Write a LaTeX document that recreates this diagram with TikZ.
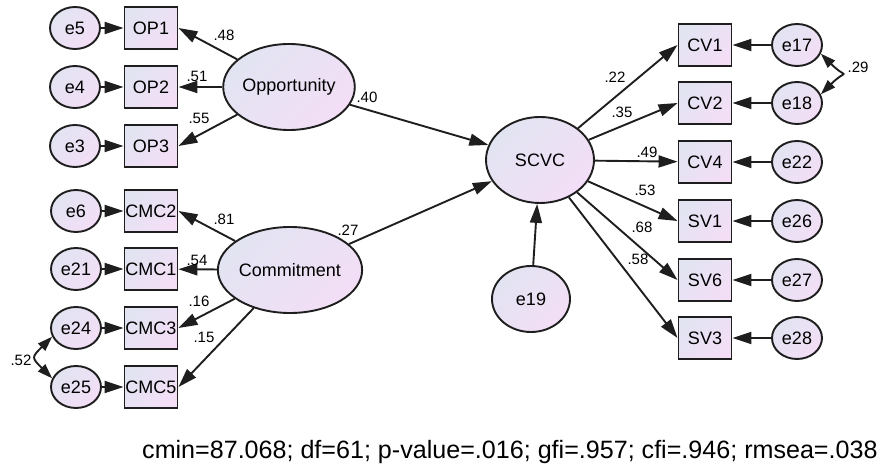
\documentclass[tikz,border=0pt]{standalone}
\usepackage{fontspec}
\setmainfont{Liberation Sans}
\usetikzlibrary{arrows.meta,shapes}
\definecolor{fillA}{RGB}{226,228,242}
\definecolor{fillB}{RGB}{243,222,246}
\definecolor{ink}{RGB}{30,30,30}
\tikzstyle{amosfill}=[draw=ink,line width=1.9pt,top color=fillA,bottom color=fillB,shading angle=45]
\tikzstyle{latent}=[ellipse,amosfill,minimum width=108pt,minimum height=86pt,inner sep=0pt,font=\fontsize{18}{20}\selectfont]
\tikzstyle{errvar}=[ellipse,amosfill,minimum width=50pt,minimum height=42pt,inner sep=0pt,font=\fontsize{18}{20}\selectfont]
\tikzstyle{observed}=[rectangle,amosfill,minimum width=53pt,minimum height=42pt,inner sep=0pt,font=\fontsize{18}{20}\selectfont]
\tikzstyle{edge} = [draw,ink,line width=1.9pt,-{Triangle[length=19pt,width=12pt]}]
\tikzstyle{covedge} = [draw,ink,line width=1.9pt,{Triangle[length=15pt,width=10pt]}-{Triangle[length=15pt,width=10pt]}]
\tikzstyle{weight} = [font=\fontsize{15}{17}\selectfont,inner sep=0pt]

\begin{document}
\begin{tikzpicture}[x=1pt,y=-1pt]
\useasboundingbox (0,0) rectangle (879,470);

%error terms left
    \foreach \pos/\name in {{(75,28)/e5},{(75,87)/e4},{(75,146)/e3},{(76,211)/e6},{(76,269)/e21},{(76,328)/e24},{(76,387)/e25}}
    	\node[errvar] (\name) at \pos {\name};
%indicators left
    \foreach \pos/\name in {{(151,28)/OP1},{(151,87)/OP2},{(151,146)/OP3},{(151,211)/CMC2},{(151,269)/CMC1},{(151,328)/CMC3},{(151,387)/CMC5}}
    	\node[observed] (\name) at \pos {\name};

%latent variables
    \node[latent] (Opp) at (289,87) {Opportunity};
    \node[latent] (Com) at (290,270) {Commitment};
    \node[latent] (SCVC) at (540,160) {SCVC};
    \node[errvar,minimum width=78pt,minimum height=66pt] (e19) at (531,299) {e19};

%indicators right
    \foreach \pos/\name in {{(705,45)/CV1},{(705,103)/CV2},{(705,162)/CV4},{(705,221)/SV1},{(705,280)/SV6},{(705,338)/SV3}}
    	\node[observed] (\name) at \pos {\name};
%error terms right
    \foreach \pos/\name in {{(797,45)/e17},{(797,103)/e18},{(797,162)/e22},{(797,221)/e26},{(797,280)/e27},{(797,338)/e28}}
    	\node[errvar] (\name) at \pos {\name};

    % loadings and paths
    \foreach \source/ \dest in {Opp/OP1.east, Opp/OP2, Opp/OP3.east, Com/CMC2.east, Com/CMC1, Com/CMC3.east, Com/CMC5.east}
        \path[edge] (\source) -- (\dest);
    \foreach \source/ \dest in {Opp/SCVC, Com/SCVC, e19/SCVC}
        \path[edge] (\source) -- (\dest);
    \foreach \dest in {CV1.west, CV2.west, CV4, SV1.west, SV6.west, SV3.west}
        \path[edge] (SCVC) -- (\dest);
    % error arrows
    \foreach \source/ \dest in {e5/OP1, e4/OP2, e3/OP3, e6/CMC2, e21/CMC1, e24/CMC3, e25/CMC5, e17/CV1, e18/CV2, e22/CV4, e26/SV1, e27/SV6, e28/SV3}
        \path[edge] (\source) -- (\dest);

    % covariances
    \path[covedge] (e24.200) to [out=225, in=135, looseness=1.8] (e25.160);
    \path[covedge] (e17.-20) to [out=-45, in=45, looseness=2.4] (e18.20);

% weights
    \foreach \pos/\name/\w in {{(224,35)/wa/.48},{(197,76)/wb/.51},{(199,118)/wc/.55},{(224,219)/wd/.81},{(197,260)/we/.54},{(199,301)/wf/.16},{(204,337)/wg/.15},{(21,360)/wh/.52}}
        \node[weight] (\name) at \pos {\w};
    \foreach \pos/\name/\w in {{(367,97)/wi/.40},{(348,230)/wj/.27}}
        \node[weight] (\name) at \pos {\w};
    \foreach \pos/\name/\w in {{(615,77)/wk/.22},{(622,112)/wl/.35},{(647,152)/wm/.49},{(645,190)/wn/.53},{(642,227)/wo/.68},{(638,259)/wp/.58},{(858,67)/wq/.29}}
        \node[weight] (\name) at \pos {\w};

% fit indices
  \node[anchor=west,inner sep=0pt,font=\fontsize{25.1}{27}\selectfont] (fit) at (142,452) {cmin=87.068; df=61; p-value=.016; gfi=.957; cfi=.946; rmsea=.038};

\end{tikzpicture}
\end{document}
